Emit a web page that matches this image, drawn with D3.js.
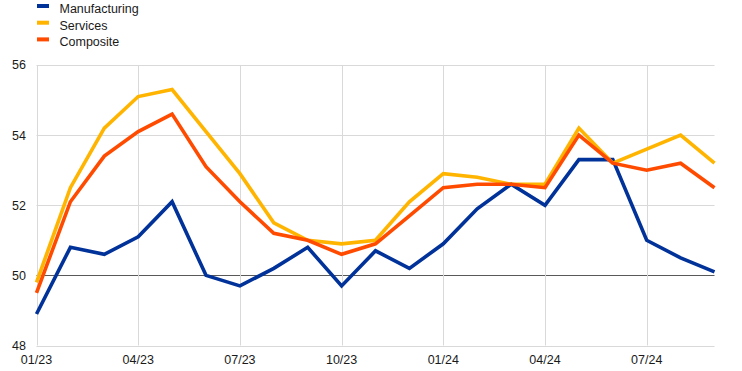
<!DOCTYPE html>
<html>
<head>
<meta charset="utf-8">
<script src="https://d3js.org/d3.v7.min.js"></script>
<style>
  body { margin: 0; background: #fff; }
  svg text { font-family: Arial, "Liberation Sans", sans-serif; fill: #1a1a1a; }
</style>
</head>
<body>
<script>
// months Jan 2023 - Sep 2024
const months = ["01/23","02/23","03/23","04/23","05/23","06/23","07/23","08/23","09/23","10/23","11/23","12/23",
                "01/24","02/24","03/24","04/24","05/24","06/24","07/24","08/24","09/24"];

const manufacturing = [48.9, 50.8, 50.6, 51.1, 52.1, 50.0, 49.7, 50.2, 50.8, 49.7, 50.7, 50.2,
                       50.9, 51.9, 52.6, 52.0, 53.3, 53.3, 51.0, 50.5, 50.1];
const services      = [49.8, 52.5, 54.2, 55.1, 55.3, 54.1, 52.9, 51.5, 51.0, 50.9, 51.0, 52.1,
                       52.9, 52.8, 52.6, 52.6, 54.2, 53.2, 53.6, 54.0, 53.2];
const composite     = [49.5, 52.1, 53.4, 54.1, 54.6, 53.1, 52.1, 51.2, 51.0, 50.6, 50.9, 51.7,
                       52.5, 52.6, 52.6, 52.5, 54.0, 53.2, 53.0, 53.2, 52.5];

const seriesNames = ["Manufacturing", "Services", "Composite"];
const colors = ["#003299", "#ffb400", "#ff4b00"];
const yTicks = [48, 50, 52, 54, 56];
const xTickLabels = ["01/23", "04/23", "07/23", "10/23", "01/24", "04/24", "07/24"];

const width = 742, height = 371;
const margin = {top: 65, right: 27.5, bottom: 25.5, left: 36.5};

const svg = d3.select("body").append("svg")
    .attr("width", width)
    .attr("height", height);

const x = d3.scalePoint()
    .domain(months)
    .range([margin.left, width - margin.right]);

const y = d3.scaleLinear()
    .domain([48, 56])
    .range([height - margin.bottom, margin.top]);

// horizontal grid
svg.append("g")
  .selectAll("line")
  .data(yTicks)
  .join("line")
    .attr("x1", margin.left)
    .attr("x2", width - margin.right)
    .attr("y1", d => Math.round(y(d)) + 0.5)
    .attr("y2", d => Math.round(y(d)) + 0.5)
    .attr("stroke", d => d === 50 ? "#595959" : "#d9d9d9")
    .attr("stroke-width", 1);

// vertical grid
svg.append("g")
  .selectAll("line")
  .data(xTickLabels)
  .join("line")
    .attr("x1", d => Math.round(x(d)) + 0.5)
    .attr("x2", d => Math.round(x(d)) + 0.5)
    .attr("y1", margin.top)
    .attr("y2", height - margin.bottom)
    .attr("stroke", "#d9d9d9")
    .attr("stroke-width", 1);

// y axis labels
svg.append("g")
  .selectAll("text")
  .data(yTicks)
  .join("text")
    .attr("x", 26)
    .attr("y", d => y(d))
    .attr("dy", "0.35em")
    .attr("text-anchor", "end")
    .attr("font-size", "12.5px")
    .text(d => d);

// x axis labels
svg.append("g")
  .selectAll("text")
  .data(xTickLabels)
  .join("text")
    .attr("x", d => x(d))
    .attr("y", height - margin.bottom + 18.5)
    .attr("text-anchor", "middle")
    .attr("font-size", "12.5px")
    .text(d => d);

// lines
const allSeries = [manufacturing, services, composite];
const line = d3.line()
    .x((d, i) => x(months[i]))
    .y(d => y(d));

svg.append("g")
  .selectAll("path")
  .data(allSeries)
  .join("path")
    .attr("fill", "none")
    .attr("stroke", (d, i) => colors[i])
    .attr("stroke-width", 3.6)
    .attr("stroke-linejoin", "miter")
    .attr("d", line);

// legend
const legend = svg.append("g")
  .selectAll("g")
  .data(seriesNames)
  .join("g")
    .attr("transform", (d, i) => `translate(37,${6 + i * 16.7})`);

legend.append("rect")
    .attr("x", 0)
    .attr("y", -2)
    .attr("width", 12)
    .attr("height", 4)
    .attr("fill", (d, i) => colors[i]);

legend.append("text")
    .attr("x", 22.5)
    .attr("y", 7)
    .attr("font-size", "12.5px")
    .text(d => d);
</script>
</body>
</html>
